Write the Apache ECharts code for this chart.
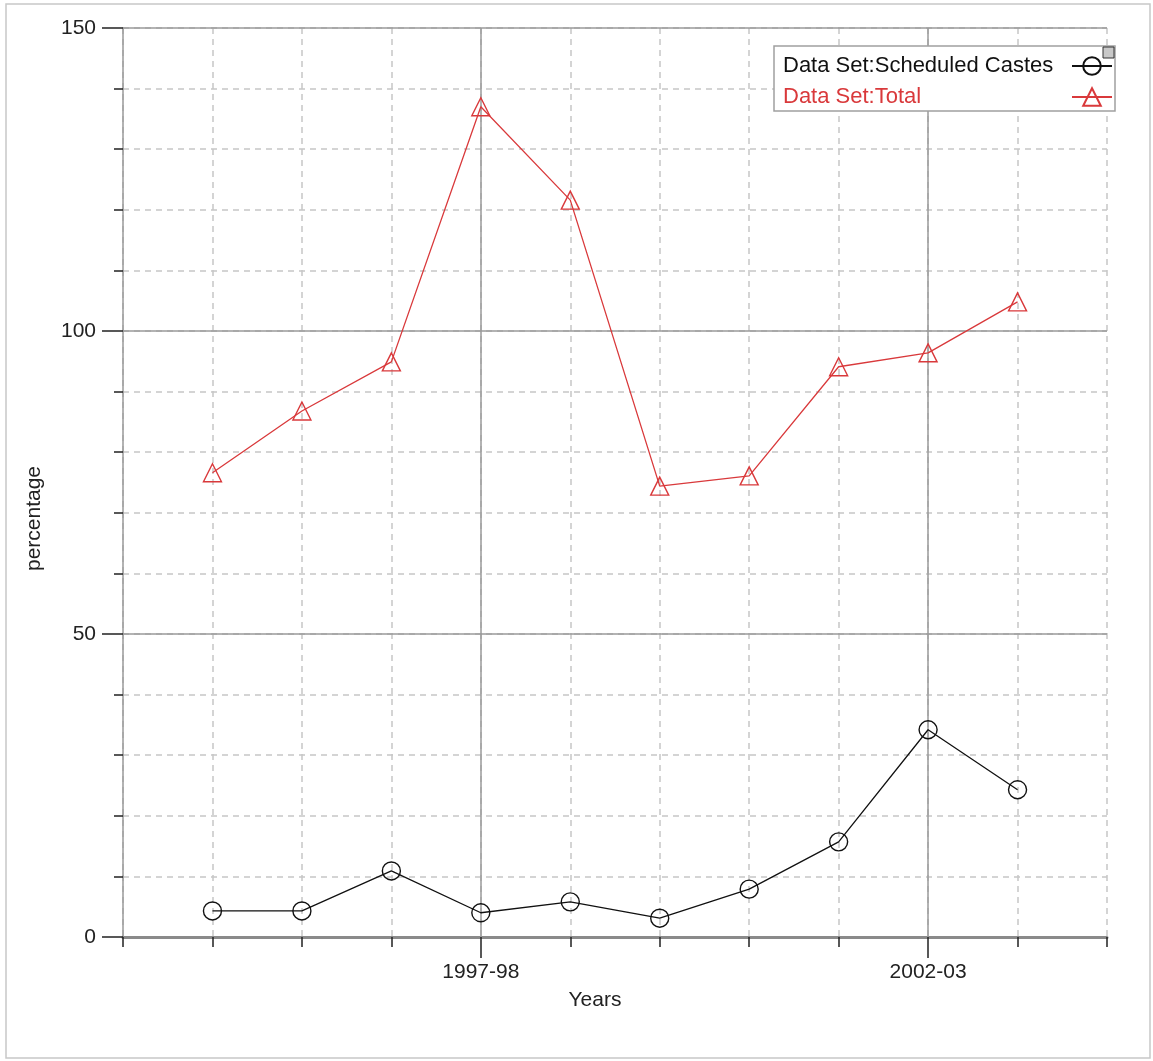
<!DOCTYPE html>
<html>
<head>
<meta charset="utf-8">
<script src="https://cdn.jsdelivr.net/npm/echarts@6/dist/echarts.min.js"></script>
<style>
html,body{margin:0;padding:0;background:#fff;}
#chart{width:1153px;height:1061px;}
</style>
</head>
<body>
<div id="chart"></div>
<script>
const years = [1994, 1995, 1996, 1997, 1998, 1999, 2000, 2001, 2002, 2003];
const scheduledCastes = [4.3, 4.3, 10.9, 4.0, 5.8, 3.1, 7.9, 15.7, 34.2, 24.3];
const total = [76.6, 86.8, 94.9, 137.0, 121.6, 74.4, 76.1, 94.1, 96.4, 104.8];
const xTickYears = [1997, 2002];
const xTickLabels = ['1997-98', '2002-03'];
const yMajorTicks = [50, 100, 150];
const seriesNames = ['Data Set:Scheduled Castes', 'Data Set:Total'];

const FONT = "'Liberation Sans', Arial, sans-serif";
const RED = '#d9393b';
const BLACK = '#111111';

const chart = echarts.init(document.getElementById('chart'), null, {renderer: 'canvas'});

const dashed = {show: true, lineStyle: {color: '#c6c6c6', width: 1.5, type: [6, 5]}};

chart.setOption({
  animation: false,
  backgroundColor: '#ffffff',
  textStyle: {fontFamily: FONT},
  grid: {left: 123, top: 28, right: 46, bottom: 124, containLabel: false},
  graphic: [
    {type: 'rect', shape: {x: 6, y: 4, width: 1144, height: 1054}, style: {fill: 'none', stroke: '#c8c8c8', lineWidth: 1.5}, z: -1},
    {type: 'rect', shape: {x: 1103, y: 47, width: 11, height: 11}, style: {fill: '#c8c8c8', stroke: '#333', lineWidth: 1}, z: 100}
  ],
  legend: {
    orient: 'vertical',
    right: 38,
    top: 46,
    z: 50,
    align: 'right',
    padding: [9, 2, 3, 9],
    itemGap: 9,
    itemWidth: 40,
    itemHeight: 22,
    borderColor: '#a0a0a0',
    borderWidth: 1.5,
    backgroundColor: '#ffffff',
    formatter: function (name) { return '{t|' + name + '}'; },
    textStyle: {fontFamily: FONT, fontSize: 22, lineHeight: 22,
      rich: {t: {width: 284, align: 'left', fontFamily: FONT, fontSize: 22, lineHeight: 22}}},
    data: [
      {name: seriesNames[0], textStyle: {color: BLACK}},
      {name: seriesNames[1], textStyle: {color: RED}}
    ]
  },
  xAxis: [
    {
      type: 'value', min: 1993, max: 2004, interval: 1,
      axisLine: {show: true, onZero: false, lineStyle: {color: '#8a8a8a', width: 3}},
      axisTick: {show: true, length: 10, lineStyle: {color: '#222', width: 1.5}},
      axisLabel: {show: false},
      splitLine: dashed,
      name: 'Years', nameLocation: 'middle', nameGap: 53,
      nameTextStyle: {fontFamily: FONT, fontSize: 21, color: '#222', padding: [0, 40, 0, 0]}
    },
    {
      type: 'value', min: 1993, max: 2004, position: 'bottom',
      axisLine: {show: false},
      axisTick: {show: true, length: 21, customValues: xTickYears, lineStyle: {color: '#222', width: 1.5}},
      axisLabel: {show: true, customValues: xTickYears, margin: 25, fontFamily: FONT, fontSize: 21, color: '#222',
        formatter: function (v) { const i = xTickYears.indexOf(Math.round(v)); return i >= 0 ? xTickLabels[i] : ''; }},
      splitLine: {show: false}
    }
  ],
  yAxis: [
    {
      type: 'value', min: 0, max: 150, interval: 10,
      axisLine: {show: true, onZero: false, lineStyle: {color: '#9a9a9a', width: 1.5}},
      axisTick: {show: true, length: 9, lineStyle: {color: '#222', width: 1.5}},
      axisLabel: {show: false},
      splitLine: dashed
    },
    {
      type: 'value', min: 0, max: 150, interval: 50, position: 'left',
      axisLine: {show: false},
      axisTick: {show: true, length: 21, lineStyle: {color: '#222', width: 1.5}},
      axisLabel: {show: true, margin: 27, fontFamily: FONT, fontSize: 21, color: '#222'},
      splitLine: {show: false},
      name: 'percentage', nameLocation: 'middle', nameGap: 78,
      nameTextStyle: {fontFamily: FONT, fontSize: 21, color: '#222', padding: [0, 72, 0, 0]}
    }
  ],
  series: [
    {
      name: 'grid-major', type: 'line', data: [], silent: true, z: 1,
      markLine: {
        silent: true, symbol: ['none', 'none'], label: {show: false}, z: 1,
        lineStyle: {color: '#9a9a9a', width: 1.5, type: 'solid'},
        data: xTickYears.map(v => ({xAxis: v})).concat(yMajorTicks.map(v => ({yAxis: v})))
      }
    },
    {
      name: seriesNames[0], type: 'line', z: 5,
      data: years.map((y, i) => [y, scheduledCastes[i]]),
      symbol: 'circle', symbolSize: 18,
      lineStyle: {color: BLACK, width: 1.3},
      itemStyle: {color: 'rgba(255,255,255,0)', borderColor: BLACK, borderWidth: 1.4}
    },
    {
      name: seriesNames[1], type: 'line', z: 5,
      data: years.map((y, i) => [y, total[i]]),
      symbol: 'triangle', symbolSize: 18,
      lineStyle: {color: RED, width: 1.3},
      itemStyle: {color: 'rgba(255,255,255,0)', borderColor: RED, borderWidth: 1.4}
    }
  ]
});
</script>
</body>
</html>
